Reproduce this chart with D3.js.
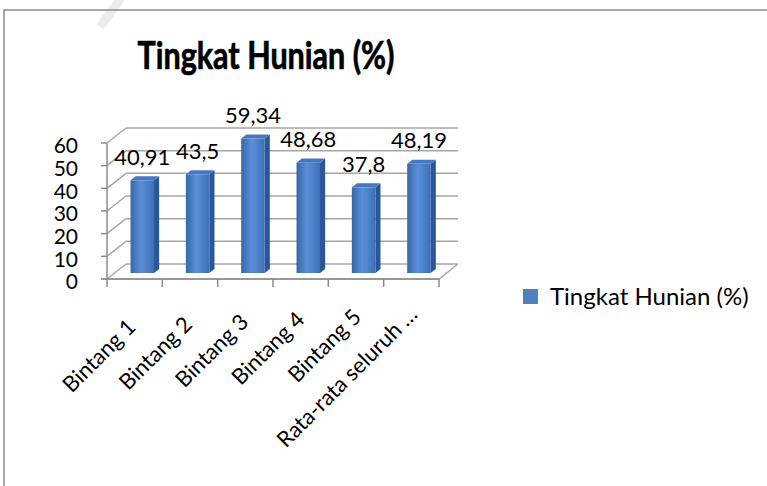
<!DOCTYPE html>
<html>
<head>
<meta charset="utf-8">
<script src="https://cdn.jsdelivr.net/npm/d3@7"></script>
<style>
  body { margin: 0; background: #fff; }
  svg text { font-family: Lato, "Open Sans", sans-serif; fill: #000; }
</style>
</head>
<body>
<svg id="chart" width="767" height="486"></svg>
<script>
// data
var categories = ["Bintang 1", "Bintang 2", "Bintang 3", "Bintang 4", "Bintang 5", "Rata-rata seluruh \u2026"];
var values = [40.91, 43.5, 59.34, 48.68, 37.8, 48.19];
var valueLabels = ["40,91", "43,5", "59,34", "48,68", "37,8", "48,19"];
var yTicks = [0, 10, 20, 30, 40, 50, 60];
var seriesName = "Tingkat Hunian (%)";
var chartTitle = "Tingkat Hunian (%)";

var svg = d3.select("#chart");

// 3d box: front plane + a depth vector going up-right
var depth = {dx: 19, dy: -15};
var barDepth = [0.4, 0.67]; // where bars sit inside the box (fraction of depth)

var x = d3.scaleBand().domain(categories).range([107, 439])
    .paddingInner(0.575).paddingOuter(0.2875);
var xCat = d3.scaleBand().domain(categories).range([107, 439]);
var yFront = d3.scaleLinear().domain([0, 60]).range([279, 143]);
var yBack = yFront.copy().range([279 + depth.dy, 143 + depth.dy]);

// chart frame + faint watermark bit
svg.append("line").attr("x1", 100).attr("y1", 27).attr("x2", 121).attr("y2", -2)
    .attr("stroke", "#ececec").attr("stroke-width", 9);
svg.append("path").attr("d", "M4,486 V10 H767")
    .attr("fill", "none").attr("stroke", "#8a8a8a").attr("stroke-width", 1.5);

var grid = svg.append("g").attr("stroke", "#a6a6a6").attr("stroke-width", 1.5).attr("fill", "none");
var x0 = xCat.range()[0], x1 = xCat.range()[1];

// back wall gridlines
grid.selectAll(".back").data(yTicks).join("line")
    .attr("x1", x0 + depth.dx).attr("x2", x1 + depth.dx)
    .attr("y1", d => yBack(d)).attr("y2", d => yBack(d));
// side wall diagonals
grid.selectAll(".side").data(yTicks).join("line")
    .attr("x1", x0).attr("y1", d => yFront(d))
    .attr("x2", x0 + depth.dx).attr("y2", d => yBack(d));
// floor front + right edge
grid.append("path")
    .attr("d", "M" + x0 + "," + yFront(0) + "H" + x1 + "L" + (x1 + depth.dx) + "," + yBack(0));

// value axis (front left)
var axisG = svg.append("g").attr("stroke", "#8c8c8c").attr("stroke-width", 1.5);
axisG.append("line").attr("x1", x0).attr("x2", x0).attr("y1", yFront(0)).attr("y2", yFront(60));
axisG.selectAll(".yt").data(yTicks).join("line")
    .attr("x1", x0 - 6).attr("x2", x0).attr("y1", d => yFront(d)).attr("y2", d => yFront(d));
// category axis
axisG.append("line").attr("x1", x0 - 4).attr("x2", x1).attr("y1", yFront(0)).attr("y2", yFront(0));
axisG.selectAll(".xt").data(d3.range(categories.length + 1)).join("line")
    .attr("x1", d => x0 + d * xCat.step()).attr("x2", d => x0 + d * xCat.step())
    .attr("y1", yFront(0)).attr("y2", yFront(0) + 8);

svg.append("g").selectAll("text").data(yTicks).join("text")
    .attr("x", 78).attr("y", d => yFront(d) + 3).attr("dy", "0.35em")
    .attr("text-anchor", "end").style("font-size", "21px").text(d => d);

// bars
var defs = svg.append("defs");
var grad = defs.append("linearGradient").attr("id", "front").attr("x1", 0).attr("x2", 1);
grad.append("stop").attr("offset", "0%").attr("stop-color", "#3767ad");
grad.append("stop").attr("offset", "45%").attr("stop-color", "#5a8fd8");
grad.append("stop").attr("offset", "100%").attr("stop-color", "#3d6fb6");

var bd0x = barDepth[0] * depth.dx, bd0y = barDepth[0] * depth.dy;
var bdx = (barDepth[1] - barDepth[0]) * depth.dx, bdy = (barDepth[1] - barDepth[0]) * depth.dy;
var bw = x.bandwidth();

var bars = svg.append("g").selectAll("g").data(values).join("g")
    .attr("transform", (d, i) => "translate(" + (x(categories[i]) + bd0x) + "," + bd0y + ")");
// side face
bars.append("path").attr("fill", "#2b5796")
    .attr("d", d => "M" + bw + "," + yFront(0) + "l" + bdx + "," + bdy +
        "V" + (yFront(d) + bdy) + "l" + (-bdx) + "," + (-bdy) + "Z");
// top face
bars.append("path").attr("fill", "#4677c0")
    .attr("d", d => "M0," + yFront(d) + "l" + bdx + "," + bdy + "h" + bw +
        "l" + (-bdx) + "," + (-bdy) + "Z");
// front face
bars.append("rect").attr("fill", "url(#front)")
    .attr("x", 0).attr("width", bw)
    .attr("y", d => yFront(d)).attr("height", d => yFront(0) - yFront(d));

// data labels
svg.append("g").selectAll("text").data(values).join("text")
    .attr("x", (d, i) => x(categories[i]) + bd0x + bw / 2)
    .attr("y", d => yFront(d) + bd0y - 23).attr("dy", "0.35em")
    .attr("text-anchor", "middle").style("font-size", "22px")
    .text((d, i) => valueLabels[i]);

// category labels, rotated
svg.append("g").selectAll("text").data(categories).join("text")
    .attr("transform", (d, i) => "translate(" + (xCat(d) + xCat.bandwidth() / 2 - 3 + i) + "," + (323 - i * 2.5) + ") rotate(-45)")
    .attr("text-anchor", "end").attr("dy", "0.35em")
    .style("font-size", "22px").text(d => d);

// title
svg.append("text").attr("x", 266).attr("y", 69).attr("text-anchor", "middle")
    .style("font-size", "38px").style("font-weight", "bold")
    .attr("stroke", "#000").attr("stroke-width", 0.7)
    .attr("textLength", 257).attr("lengthAdjust", "spacingAndGlyphs")
    .text(chartTitle);

// legend
var legend = svg.append("g").attr("transform", "translate(523,289)");
legend.append("rect").attr("width", 15).attr("height", 15).attr("fill", "#4f81bd");
legend.append("text").attr("x", 27).attr("y", 16)
    .style("font-size", "24px").text(seriesName);
</script>
</body>
</html>
